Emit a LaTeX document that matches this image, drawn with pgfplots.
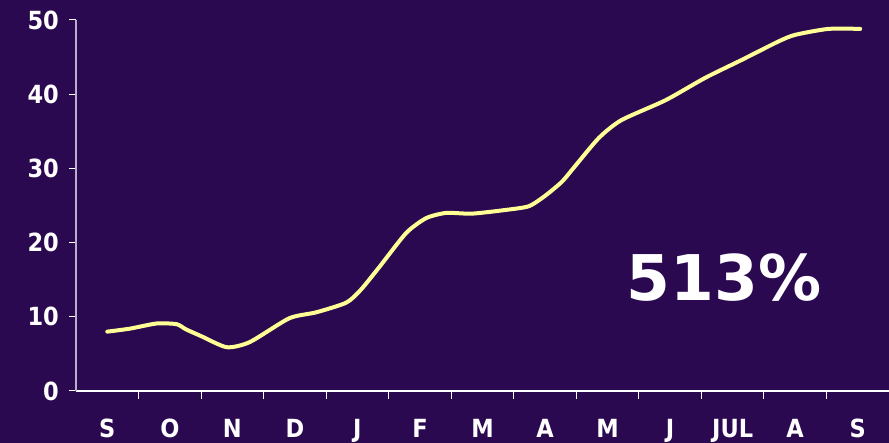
\documentclass[border=0pt]{standalone}
\usepackage{fontspec}
\usepackage{pgfplots}
\pgfplotsset{compat=1.18}
\newfontfamily\lblfont{DejaVu Sans Condensed Bold}
\newfontfamily\bigfont{DejaVu Sans Bold}
\definecolor{bg}{RGB}{43,9,80}
\definecolor{ln}{RGB}{255,255,150}
\definecolor{yax}{RGB}{185,175,205}
\begin{document}
\begin{tikzpicture}[x=1pt,y=1pt]
\fill[bg] (0,0) rectangle (889,443);
\path[use as bounding box] (0,0) rectangle (889,443);
\begin{axis}[
  at={(76pt,52pt)}, anchor=south west,
  scale only axis, width=813pt, height=371pt,
  xmin=-0.5, xmax=12.5, ymin=0, ymax=50,
  axis lines=left,
  axis line style={-},
  x axis line style={white, line width=1.2pt},
  y axis line style={yax, line width=1.2pt},
  clip=false,
  tick align=outside,
  ytick={0,10,20,30,40,50},
  xtick={0,...,12},
  xticklabels={S,O,N,D,J,F,M,A,M,J,JUL,A,S},
  minor xtick={0.5,1.5,...,11.5},
  major x tick style={draw=none},
  every tick/.style={white, line width=1pt},
  major tick length=7pt,
  minor tick length=8pt,
  /pgf/number format/assume math mode=true,
  tick label style={font=\lblfont\fontsize{25}{30}\selectfont, text=white, inner sep=0pt},
  yticklabel style={anchor=east, xshift=-10pt},
  xticklabel style={anchor=base, yshift=-40pt},
]
\addplot[ln, line width=4pt, line cap=round, line join=round, smooth, tension=0.4] coordinates {
(0.00,8.0)
(0.36,8.4)
(0.79,9.1)
(1.11,9.0)
(1.26,8.3)
(1.50,7.4)
(1.91,5.9)
(2.28,6.6)
(2.91,9.8)
(3.34,10.6)
(3.82,11.9)
(4.05,13.6)
(4.35,16.7)
(4.78,21.3)
(5.10,23.3)
(5.42,24.0)
(5.83,23.9)
(6.37,24.4)
(6.74,24.9)
(7.00,26.3)
(7.27,28.2)
(7.46,30.1)
(7.86,34.1)
(8.22,36.5)
(8.93,39.2)
(9.56,42.2)
(10.14,44.6)
(10.73,47.1)
(11.00,48.0)
(11.53,48.8)
(12.04,48.8)
};
\end{axis}
\node[anchor=base, inner sep=0pt, text=white, font=\bigfont\fontsize{63}{70}\selectfont] at (724,142) {513\%};
\end{tikzpicture}
\end{document}
